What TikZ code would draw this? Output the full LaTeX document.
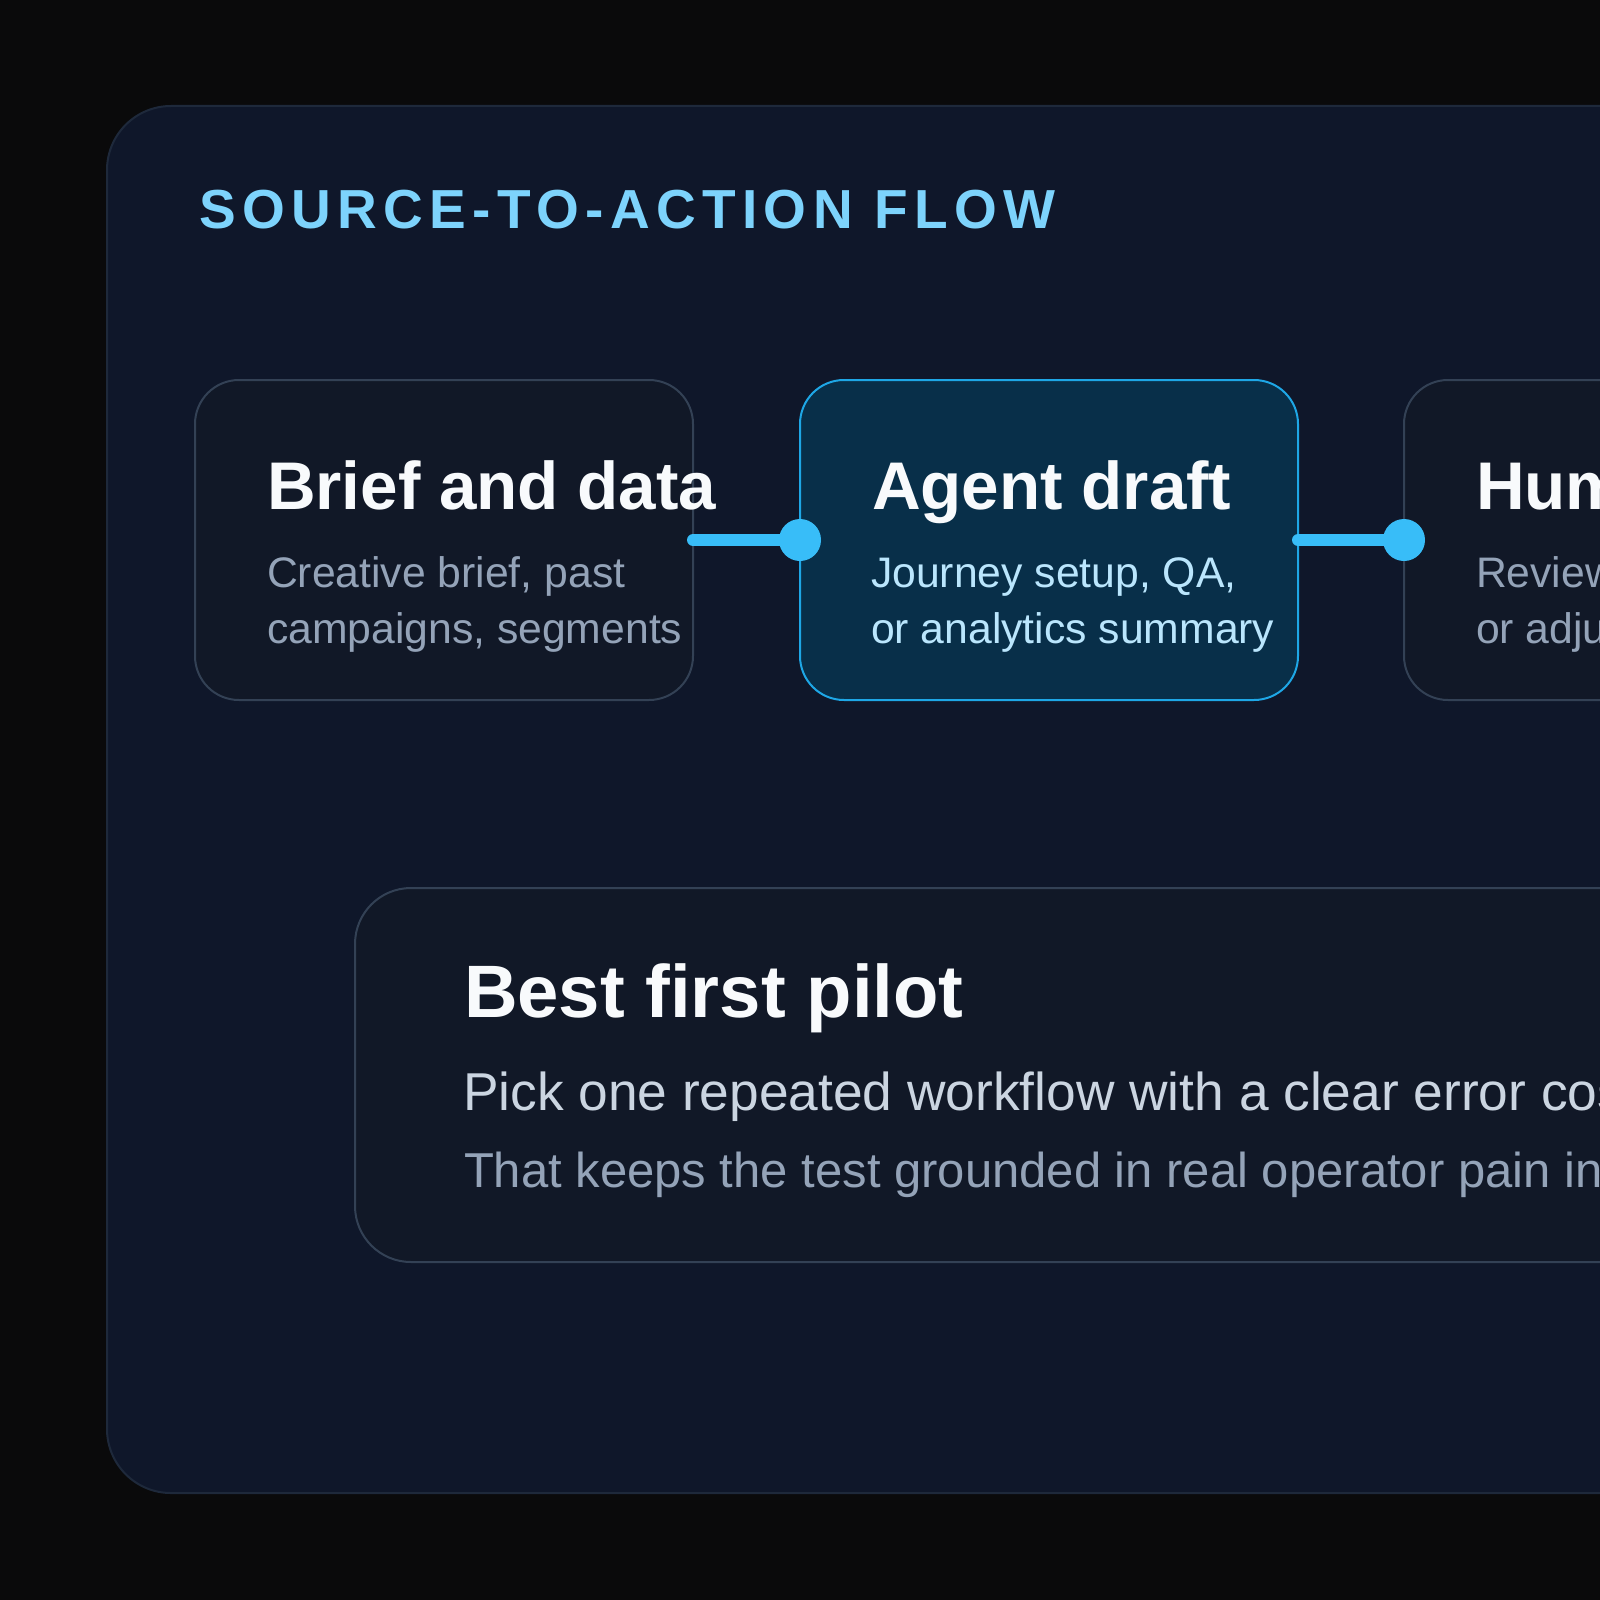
\documentclass[tikz,border=0pt]{standalone}
\usepackage{fontspec}
\setmainfont{Liberation Sans}
\newfontfamily\eyebrowfont{Liberation Sans}[LetterSpace=11.6]
\definecolor{bgout}{HTML}{0A0A0B}
\definecolor{panel}{HTML}{0F172A}
\definecolor{panelline}{HTML}{1E293B}
\definecolor{cardfill}{HTML}{111827}
\definecolor{cardline}{HTML}{334155}
\definecolor{hotfill}{HTML}{082F49}
\definecolor{hotline}{HTML}{1EA7E6}
\definecolor{accent}{HTML}{38BDF8}
\definecolor{eyebrowc}{HTML}{7DD3FC}
\definecolor{titlec}{HTML}{F8FAFC}
\definecolor{mutedc}{HTML}{94A3B8}
\definecolor{hotsub}{HTML}{BAE6FD}
\definecolor{bodyc}{HTML}{CBD5E1}
\tikzset{
  card/.style={rectangle, rounded corners=44pt, draw=cardline, fill=cardfill, line width=2pt,
    inner sep=0pt, outer sep=0pt, minimum width=498pt, minimum height=320pt, anchor=north west},
  hotcard/.style={card, draw=hotline, fill=hotfill},
  txt/.style={anchor=base west, inner sep=0pt, outer sep=0pt},
  cardtitle/.style={txt, text=titlec, font=\fontsize{67.4}{80}\selectfont\bfseries},
  cardsub/.style={txt, text=mutedc, font=\fontsize{42.7}{56}\selectfont},
  hotsubtxt/.style={cardsub, text=hotsub},
  conn/.style={draw=accent, line width=12pt, line cap=round},
  dotc/.style={fill=accent},
}
\begin{document}
\begin{tikzpicture}[x=1pt, y=-1pt]
\clip (0,0) rectangle (1600,1600);
\fill[bgout] (0,0) rectangle (1600,1600);
% outer panel
\draw[fill=panel, draw=panelline, line width=2pt, rounded corners=64pt] (107,106) rectangle (2400,1493);
% eyebrow
\node[txt, text=eyebrowc, font=\fontsize{55}{66}\selectfont\eyebrowfont\bfseries] (eyebrow) at (199,228) {SOURCE-TO-ACTION FLOW};
% cards
\node[card] (c1) at (195,380) {};
\node[hotcard] (c2) at (800,380) {};
\node[card] (c3) at (1404,380) {};
% card texts
\node[cardtitle] (t1) at (267,509) {Brief and data};
\node[cardsub] (s1a) at (267,587) {Creative brief, past};
\node[cardsub] (s1b) at (267,643) {campaigns, segments};
\node[cardtitle] (t2) at (872,509) {Agent draft};
\node[hotsubtxt] (s2a) at (871,587) {Journey setup, QA,};
\node[hotsubtxt] (s2b) at (871,643) {or analytics summary};
\node[cardtitle] (t3) at (1476,509) {Human review};
\node[cardsub] (s3a) at (1476,587) {Review, approve,};
\node[cardsub] (s3b) at (1476,643) {or adjust};
% connectors
\draw[conn] (c1.east) -- (c2.west);
\fill[dotc] (c2.west) circle (21pt);
\draw[conn] (c2.east) -- (c3.west);
\fill[dotc] (c3.west) circle (21pt);
% bottom card
\node[card, rounded corners=56pt, minimum width=1700pt, minimum height=374pt] (pilot) at (355,888) {};
\node[txt, text=titlec, font=\fontsize{74.3}{88}\selectfont\bfseries] (pt) at (464,1017) {Best first pilot};
\node[txt, text=bodyc, font=\fontsize{53.3}{64}\selectfont] (pl1) at (463,1110) {Pick one repeated workflow with a clear error cost.};
\node[txt, text=mutedc, font=\fontsize{49}{60}\selectfont] (pl2) at (464,1187) {That keeps the test grounded in real operator pain instead of demos.};
\end{tikzpicture}
\end{document}
